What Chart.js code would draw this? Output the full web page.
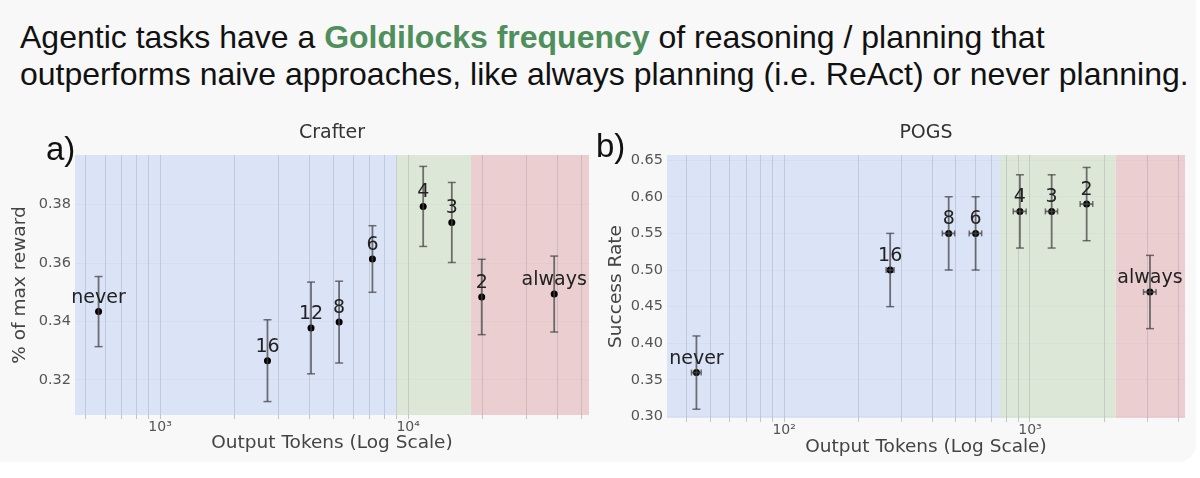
<!DOCTYPE html>
<html>
<head>
<meta charset="utf-8">
<script src="https://cdn.jsdelivr.net/npm/chart.js@4.4.1/dist/chart.umd.min.js"></script>
<style>
html, body { margin: 0; padding: 0; background: #fff; }
#page { position: relative; width: 1200px; height: 478px; overflow: hidden; background: #fff; }
#panel { position: absolute; left: 0; top: 0; width: 1196px; height: 462px; background: #f8f8f8; border-bottom-right-radius: 18px; }
#head { position: absolute; left: 20px; top: 19px; font-family: "Liberation Sans", Arial, sans-serif; font-size: 32px; line-height: 37px; color: #111; white-space: nowrap; }
#head b { color: #4f8f5b; }
.tag { position: absolute; font-family: "Liberation Sans", Arial, sans-serif; font-size: 33px; line-height: 33px; color: #111; }
canvas { position: absolute; }
</style>
</head>
<body>
<div id="page">
  <div id="panel"></div>
  <div id="head">Agentic tasks have a <b>Goldilocks frequency</b> of reasoning / planning that<br>outperforms naive approaches, like always planning (i.e. ReAct) or never planning.</div>
  <canvas id="crafter" width="595" height="355" style="left:0;top:110px"></canvas>
  <canvas id="pogs" width="600" height="355" style="left:595px;top:110px"></canvas>
  <div class="tag" style="left:46px;top:132px">a)</div>
  <div class="tag" style="left:596px;top:129px">b)</div>
</div>
<script>
// ---- a) Crafter ----
var crafterLabels = ['never', '16', '12', '8', '6', '4', '3', '2', 'always'];
var crafterTokens = [565, 2710, 4060, 5270, 7180, 11500, 15000, 19800, 38800];
var crafterReward = [0.3434, 0.3266, 0.3378, 0.3398, 0.3614, 0.3794, 0.3739, 0.3484, 0.3494];
var crafterErr = [0.012, 0.014, 0.0157, 0.014, 0.0114, 0.0137, 0.0137, 0.0129, 0.013];
var crafterYTicks = [0.32, 0.34, 0.36, 0.38];
var crafterXRange = [454, 53600];
var crafterYRange = [0.308, 0.397];
var crafterBands = [[454, 8950], [8950, 17900], [17900, 53600]];

// ---- b) POGS ----
var pogsLabels = ['never', '16', '8', '6', '4', '3', '2', 'always'];
var pogsTokens = [44, 270, 467, 601, 910, 1225, 1700, 3076];
var pogsTokensErr = [2, 10, 27, 35, 55, 70, 100, 180];
var pogsSuccess = [0.36, 0.50, 0.55, 0.55, 0.58, 0.58, 0.59, 0.47];
var pogsErr = [0.05, 0.05, 0.05, 0.05, 0.05, 0.05, 0.05, 0.05];
var pogsYTicks = [0.30, 0.35, 0.40, 0.45, 0.50, 0.55, 0.60, 0.65];
var pogsXRange = [33.4, 4270];
var pogsYRange = [0.298, 0.657];
var pogsBands = [[33.4, 755], [755, 2230], [2230, 4270]];

var bandColors = ['#dbe3f6', '#dde7d7', '#ebcfd0'];
var barColor = 'rgba(70,70,70,0.75)';
var FONT = 'DejaVu Sans';
var SUP = { '0': '⁰', '1': '¹', '2': '²', '3': '³', '4': '⁴', '5': '⁵' };

// minor log grid: 1..9 x 10^n inside the axis range
function logGrid(scale) {
  var t = [];
  for (var e = 0; e < 6; e++) {
    for (var m = 1; m < 10; m++) {
      var v = m * Math.pow(10, e);
      if (v >= scale.min && v <= scale.max) t.push({ value: v });
    }
  }
  scale.ticks = t;
}

function decadeLabel(v) {
  var e = Math.round(Math.log10(v));
  if (Math.abs(Math.pow(10, e) - v) < 1e-6 * v) return '10' + SUP[e];
  return '';
}

function errorBars(xs, ys, yErr, xErr) {
  var sets = [];
  xs.forEach(function (x, i) {
    sets.push({
      type: 'line',
      data: [{ x: x, y: ys[i] - yErr[i] }, { x: x, y: ys[i] + yErr[i] }],
      borderColor: barColor, borderWidth: 1.8,
      pointStyle: 'line', pointRadius: 4, pointBorderWidth: 1.5,
      pointBorderColor: barColor, pointHoverRadius: 0
    });
    if (xErr) {
      sets.push({
        type: 'line',
        data: [{ x: x - xErr[i], y: ys[i] }, { x: x + xErr[i], y: ys[i] }],
        borderColor: barColor, borderWidth: 1.8,
        pointStyle: 'line', pointRotation: 90, pointRadius: 3, pointBorderWidth: 1.5,
        pointBorderColor: barColor, pointHoverRadius: 0
      });
    }
  });
  sets.push({
    type: 'scatter',
    data: xs.map(function (x, i) { return { x: x, y: ys[i] }; }),
    backgroundColor: '#000', borderWidth: 0, pointRadius: 3.5, pointHoverRadius: 3.5
  });
  return sets;
}

function bandPlugin(bands) {
  return {
    id: 'bands',
    beforeDraw: function (chart) {
      var ctx = chart.ctx, a = chart.chartArea, xs = chart.scales.x;
      ctx.save();
      bands.forEach(function (b, i) {
        var x0 = xs.getPixelForValue(b[0]), x1 = xs.getPixelForValue(b[1]);
        ctx.fillStyle = bandColors[i];
        ctx.fillRect(x0, a.top, x1 - x0, a.bottom - a.top);
      });
      ctx.restore();
    }
  };
}

function labelPlugin(labels) {
  return {
    id: 'pointNames',
    afterDatasetsDraw: function (chart) {
      var ctx = chart.ctx;
      var meta = chart.getDatasetMeta(chart.data.datasets.length - 1);
      ctx.save();
      ctx.font = '19px "' + FONT + '"';
      ctx.fillStyle = '#222';
      ctx.textAlign = 'center';
      ctx.textBaseline = 'middle';
      meta.data.forEach(function (pt, i) {
        ctx.fillText(labels[i], pt.x, pt.y - 14);
      });
      ctx.restore();
    }
  };
}

function makeChart(id, opt) {
  return new Chart(document.getElementById(id), {
    type: 'scatter',
    data: { datasets: errorBars(opt.xs, opt.ys, opt.yErr, opt.xErr) },
    options: {
      responsive: false,
      animation: false,
      layout: { padding: { left: 0, right: opt.padRight, top: 0, bottom: 0 } },
      plugins: {
        legend: { display: false },
        tooltip: { enabled: false },
        title: {
          display: true, text: opt.title, fullSize: false, color: '#333',
          font: { family: FONT, size: 19, weight: 'normal' },
          padding: { top: 11.6, bottom: 10.6 }
        }
      },
      scales: {
        x: {
          type: 'logarithmic', min: opt.xRange[0], max: opt.xRange[1],
          afterBuildTicks: logGrid,
          afterFit: function (s) { s.height = opt.xHeight; },
          ticks: {
            autoSkip: false, maxRotation: 0, padding: 0, color: '#555',
            font: { family: FONT, size: 14 },
            callback: function (v) { return decadeLabel(v); }
          },
          grid: { color: 'rgba(90,100,130,0.2)', lineWidth: 1, drawTicks: true, tickLength: 4, tickColor: 'rgba(90,100,130,0.35)' },
          border: { display: false },
          title: {
            display: true, text: 'Output Tokens (Log Scale)', color: '#444',
            font: { family: FONT, size: 18.5 }, padding: { top: 0, bottom: opt.xTitlePad }
          }
        },
        y: {
          min: opt.yRange[0], max: opt.yRange[1],
          afterBuildTicks: function (s) { s.ticks = opt.yTicks.map(function (v) { return { value: v }; }); },
          afterFit: function (s) { s.width = opt.yWidth; },
          ticks: {
            padding: 4, color: '#555', font: { family: FONT, size: 14.5 },
            callback: function (v) { return v.toFixed(2); }
          },
          grid: { color: 'rgba(110,120,150,0.05)', drawTicks: false },
          border: { display: false },
          title: {
            display: true, text: opt.yTitle, color: '#444',
            font: { family: FONT, size: 18.5 }, padding: { top: opt.yTitlePad, bottom: 0 }
          }
        }
      }
    },
    plugins: [bandPlugin(opt.bands), labelPlugin(opt.labels)]
  });
}

makeChart('crafter', {
  title: 'Crafter', yTitle: '% of max reward',
  xs: crafterTokens, ys: crafterReward, yErr: crafterErr, xErr: null,
  labels: crafterLabels, yTicks: crafterYTicks,
  xRange: crafterXRange, yRange: crafterYRange, bands: crafterBands,
  padRight: 6, xHeight: 50, yWidth: 75, xTitlePad: 11, yTitlePad: 9
});

makeChart('pogs', {
  title: 'POGS', yTitle: 'Success Rate',
  xs: pogsTokens, ys: pogsSuccess, yErr: pogsErr, xErr: pogsTokensErr,
  labels: pogsLabels, yTicks: pogsYTicks,
  xRange: pogsXRange, yRange: pogsYRange, bands: pogsBands,
  padRight: 10, xHeight: 47, yWidth: 72, xTitlePad: 7, yTitlePad: 10
});
</script>
</body>
</html>
